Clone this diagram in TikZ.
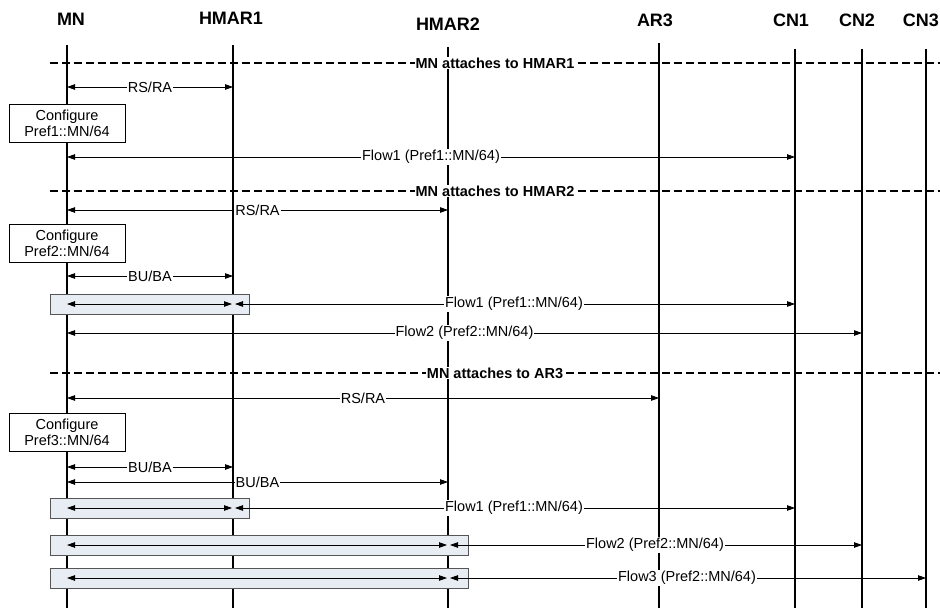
\documentclass[tikz,border=0pt]{standalone}
\usepackage{fontspec}
\setmainfont{Liberation Sans}
\usetikzlibrary{arrows.meta}
\definecolor{tnFill}{HTML}{E8EDF3}
\definecolor{tnEdge}{HTML}{555555}
\newcommand{\lblfont}{\fontsize{14.5}{16}\selectfont}
\tikzset{
  actor/.style={font=\fontsize{18}{20}\selectfont\bfseries, inner sep=0pt},
  lifeline/.style={line width=1.6pt},
  phase/.style={dash pattern=on 8pt off 4pt, line width=1.4pt},
  phaselbl/.style={fill=white, inner sep=1pt, font=\lblfont\bfseries},
  msg/.style={{Triangle[length=8pt,width=5.5pt]}-{Triangle[length=8pt,width=5.5pt]},
              line width=0.8pt},
  inner/.style={msg, shorten >=1pt},
  outer/.style={msg, shorten <=2pt},
  lbl/.style={fill=white, inner sep=1pt, font=\lblfont},
  cfgbox/.style={draw, line width=0.8pt, fill=white, align=center,
                 minimum width=116pt, minimum height=38pt, inner sep=1pt,
                 font=\lblfont},
  tunnel/.style={draw=tnEdge, line width=0.8pt, fill=tnFill, anchor=west,
                 minimum height=20pt, inner sep=0pt},
}

\begin{document}
\begin{tikzpicture}[x=1pt, y=-1pt]
  \useasboundingbox (0,0) rectangle (940,608);

  % lifelines
  \foreach \n/\x/\y/\t in {MN/67/19/45, HMAR1/233/18/45, HMAR2/448/24/47,
                           AR3/659/20/43, CN1/795/20/49, CN2/862/20/49, CN3/926/20/49} {
    \coordinate (\n) at (\x,\y);
    \coordinate (\n top) at (\x,\t);
    \coordinate (\n bot) at (\x,608);
    \draw[lifeline] (\n top) -- (\n bot);
  }
  \foreach \n/\dx in {MN/4, HMAR1/-2, HMAR2/0, AR3/-4, CN1/-4, CN2/-5}
    \node[actor] (\n head) at ([xshift=\dx pt]\n) {\n};
  \node[actor, anchor=east] (CN3 head) at (939,20) {CN3};

  % rows
  \foreach \r/\y in {ph1/63, rs1/87, fl1/157, ph2/191, rs2/210, bu2/276, tn1/304,
                     fl2/333, ph3/373, rs3/398, bu3/467, bu4/482, tn2/508, tn3/545, tn4/578}
    \coordinate (\r) at (0,\y);
  \coordinate (L) at (50,0);
  \coordinate (R) at (940,0);

  % phase 1
  \draw[phase] (L |- ph1) -- node[phaselbl]{MN attaches to HMAR1} (R |- ph1);
  \draw[msg] (MN |- rs1) -- node[lbl]{RS/RA} (HMAR1 |- rs1);
  \node[cfgbox] (cfg1) at (67,123) {Configure\\Pref1::MN/64};
  \draw[msg] (MN |- fl1) -- node[lbl]{Flow1 (Pref1::MN/64)} (CN1 |- fl1);

  % phase 2
  \draw[phase] (L |- ph2) -- node[phaselbl]{MN attaches to HMAR2} (R |- ph2);
  \draw[msg] (MN |- rs2) -- node[lbl]{RS/RA} (HMAR2 |- rs2);
  \node[cfgbox] (cfg2) at (67,243.5) {Configure\\Pref2::MN/64};
  \draw[msg] (MN |- bu2) -- node[lbl]{BU/BA} (HMAR1 |- bu2);
  \node[tunnel, minimum width=199pt] (tun1) at (L |- tn1) {};
  \draw[inner] (MN |- tn1) -- (HMAR1 |- tn1);
  \draw[outer] (HMAR1 |- tn1) -- node[lbl]{Flow1 (Pref1::MN/64)} (CN1 |- tn1);
  \draw[msg] (MN |- fl2) -- node[lbl]{Flow2 (Pref2::MN/64)} (CN2 |- fl2);

  % phase 3
  \draw[phase] (L |- ph3) -- node[phaselbl]{MN attaches to AR3} (R |- ph3);
  \draw[msg] (MN |- rs3) -- node[lbl]{RS/RA} (AR3 |- rs3);
  \node[cfgbox] (cfg3) at (67,432.5) {Configure\\Pref3::MN/64};
  \draw[msg] (MN |- bu3) -- node[lbl]{BU/BA} (HMAR1 |- bu3);
  \draw[msg] (MN |- bu4) -- node[lbl]{BU/BA} (HMAR2 |- bu4);
  \node[tunnel, minimum width=199pt] (tun2) at (L |- tn2) {};
  \draw[inner] (MN |- tn2) -- (HMAR1 |- tn2);
  \draw[outer] (HMAR1 |- tn2) -- node[lbl]{Flow1 (Pref1::MN/64)} (CN1 |- tn2);
  \node[tunnel, minimum width=418pt] (tun3) at (L |- tn3) {};
  \draw[inner] (MN |- tn3) -- (HMAR2 |- tn3);
  \draw[outer] (HMAR2 |- tn3) -- node[lbl]{Flow2 (Pref2::MN/64)} (CN2 |- tn3);
  \node[tunnel, minimum width=418pt] (tun4) at (L |- tn4) {};
  \draw[inner] (MN |- tn4) -- (HMAR2 |- tn4);
  \draw[outer] (HMAR2 |- tn4) -- node[lbl]{Flow3 (Pref2::MN/64)} (CN3 |- tn4);
\end{tikzpicture}
\end{document}
